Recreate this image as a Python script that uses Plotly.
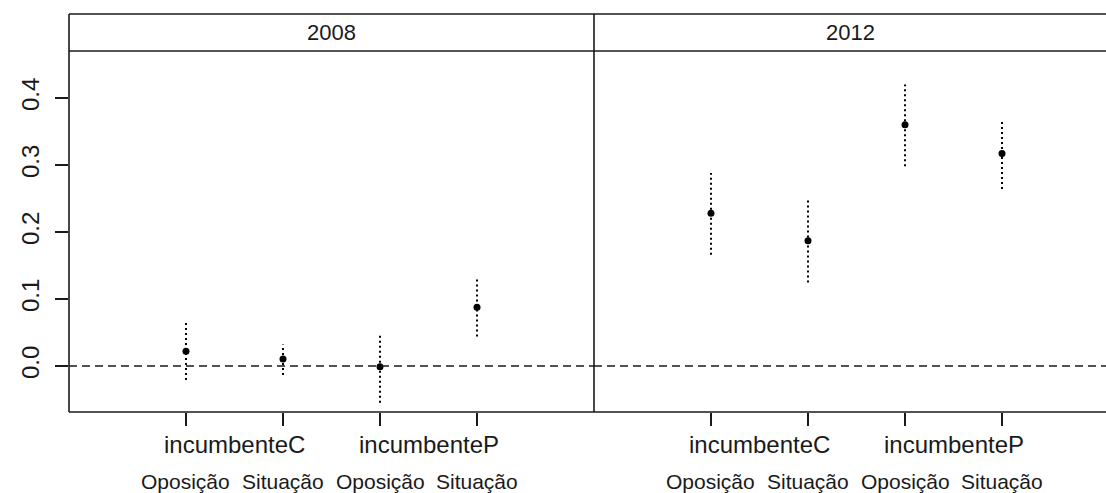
import plotly.graph_objects as go

# ---- data ----
years = ["2008", "2012"]
groups = ["incumbenteC", "incumbenteC", "incumbenteP", "incumbenteP"]
subgroups = ["Oposição", "Situação", "Oposição", "Situação"]
est_2008 = [0.022, 0.0105, -0.001, 0.0877]
lo_2008 = [-0.021, -0.0135, -0.055, 0.0438]
hi_2008 = [0.064, 0.032, 0.049, 0.1296]
est_2012 = [0.228, 0.187, 0.360, 0.317]
lo_2012 = [0.166, 0.1245, 0.298, 0.264]
hi_2012 = [0.288, 0.247, 0.420, 0.367]
y_ticks = [0.0, 0.1, 0.2, 0.3, 0.4]
y_ticklabels = ["0.0", "0.1", "0.2", "0.3", "0.4"]

W, H = 1106, 493
def px_x(p): return p / W
def px_y(p): return 1 - p / H

LEFT, MID, RIGHT = 69, 594, 1106
TOP, STRIP_B, BOT = 14, 51, 412

xs = [i + 1 for i in range(len(subgroups))]
FONT = "Liberation Sans, Arial, sans-serif"
INK = "#1a1a1a"

fig = go.Figure()
panels = [
    ("x", "y", est_2008, lo_2008, hi_2008),
    ("x2", "y2", est_2012, lo_2012, hi_2012),
]
for xa, ya, est, lo, hi in panels:
    ex, ey = [], []
    for x, l, h in zip(xs, lo, hi):
        ex += [x, x, None]
        ey += [l, h, None]
    fig.add_trace(go.Scatter(x=ex, y=ey, mode="lines", xaxis=xa, yaxis=ya,
                             line=dict(color="black", width=2, dash="2px,3px"),
                             hoverinfo="skip", showlegend=False))
    fig.add_trace(go.Scatter(x=xs, y=est, mode="markers", xaxis=xa, yaxis=ya,
                             marker=dict(color="black", size=7), showlegend=False))

yr = [-0.0687, 0.470]
ydom = [px_y(BOT), px_y(STRIP_B)]
common_x = dict(tickvals=xs, ticktext=[""] * 4, ticks="outside", ticklen=13,
                tickwidth=1.5, tickcolor=INK, showgrid=False, zeroline=False,
                showline=False, fixedrange=True)
fig.update_layout(
    width=W, height=H, margin=dict(l=0, r=0, t=0, b=0),
    paper_bgcolor="white", plot_bgcolor="white",
    xaxis=dict(domain=[px_x(LEFT), px_x(MID)], range=[-0.206, 5.206], anchor="y", **common_x),
    xaxis2=dict(domain=[px_x(MID), 1], range=[-0.206, 5.072], anchor="y2", **common_x),
    yaxis=dict(domain=ydom, range=yr, anchor="x", tickvals=y_ticks, ticktext=y_ticklabels,
               ticks="outside", ticklen=13, tickwidth=1.5, tickcolor=INK, tickangle=-90,
               tickfont=dict(family=FONT, size=24, color=INK), ticklabelstandoff=6,
               showgrid=False, zeroline=False, showline=False),
    yaxis2=dict(domain=ydom, range=yr, anchor="x2", showticklabels=False, ticks="",
                showgrid=False, zeroline=False, showline=False),
)

shapes = []
lw = dict(color=INK, width=1.6)
shapes.append(dict(type="line", xref="paper", yref="paper", x0=px_x(LEFT), x1=1, y0=px_y(TOP), y1=px_y(TOP), line=lw))
shapes.append(dict(type="line", xref="paper", yref="paper", x0=px_x(LEFT), x1=1, y0=px_y(STRIP_B), y1=px_y(STRIP_B), line=lw))
shapes.append(dict(type="line", xref="paper", yref="paper", x0=px_x(LEFT), x1=1, y0=px_y(BOT), y1=px_y(BOT), line=lw))
shapes.append(dict(type="line", xref="paper", yref="paper", x0=px_x(LEFT), x1=px_x(LEFT), y0=px_y(TOP), y1=px_y(BOT), line=lw))
shapes.append(dict(type="line", xref="paper", yref="paper", x0=px_x(MID), x1=px_x(MID), y0=px_y(TOP), y1=px_y(BOT), line=lw))
for xa, ya in [("x", "y"), ("x2", "y2")]:
    shapes.append(dict(type="line", xref=f"{xa} domain", yref=ya, x0=0, x1=1, y0=0, y1=0,
                       line=dict(color=INK, width=1.5, dash="8px,5px")))
fig.update_layout(shapes=shapes)

ann = []
for (xa, _, _, _, _), yr_label in zip(panels, years):
    ann.append(dict(text=yr_label, xref=f"{xa} domain", yref="paper", x=0.5,
                    y=px_y((TOP + STRIP_B) / 2), showarrow=False, xanchor="center", yanchor="middle",
                    font=dict(family=FONT, size=22, color=INK)))
for xa, _, _, _, _ in panels:
    seen = []
    for g in groups:
        if g not in seen:
            seen.append(g)
    for g in seen:
        pos = [x for x, gg in zip(xs, groups) if gg == g]
        ann.append(dict(text=g, xref=xa, yref="paper", x=sum(pos) / len(pos), y=px_y(444),
                        showarrow=False, xanchor="center", yanchor="middle",
                        font=dict(family=FONT, size=24, color=INK)))
    for x, s in zip(xs, subgroups):
        ann.append(dict(text=s, xref=xa, yref="paper", x=x, y=px_y(481),
                        showarrow=False, xanchor="center", yanchor="middle",
                        font=dict(family=FONT, size=21, color=INK)))
fig.update_layout(annotations=ann)

fig.write_html("out.html", config={"displayModeBar": False})
with open("out.html", encoding="utf-8") as f:
    html = f.read()
html = html.replace("<body>", '<body style="margin:0;padding:0;overflow:hidden">', 1)
with open("out.html", "w", encoding="utf-8") as f:
    f.write(html)
